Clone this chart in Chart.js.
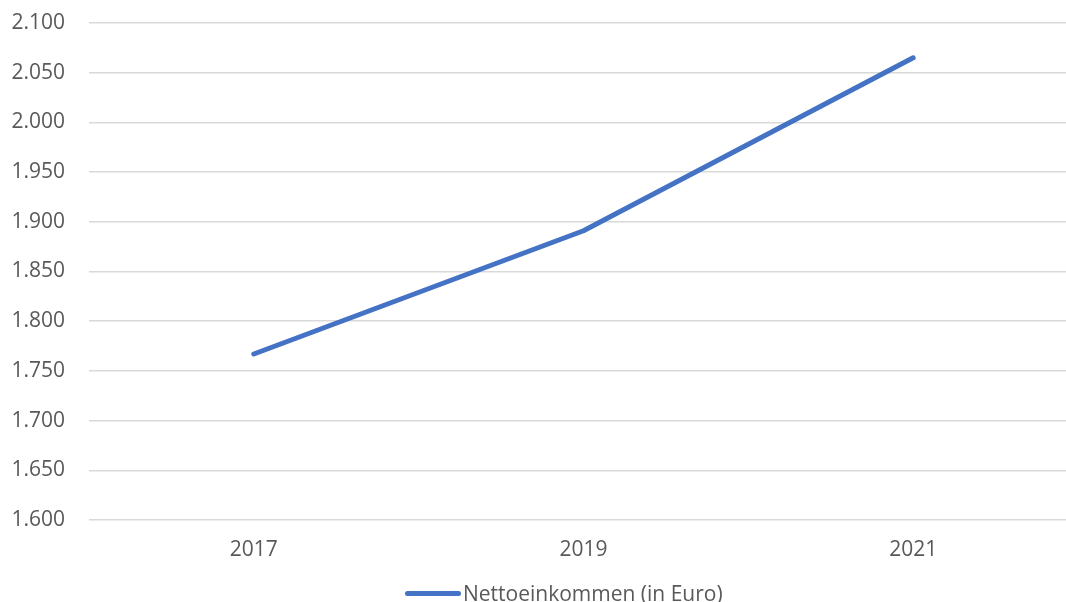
<!DOCTYPE html>
<html lang="de">
<head>
<meta charset="utf-8">
<script src="https://cdn.jsdelivr.net/npm/chart.js@4"></script>
<style>
  html, body { margin: 0; padding: 0; background: #fff; overflow: hidden; }
  #wrap { position: relative; width: 1078px; height: 602px; }
  #legend {
    position: absolute; left: 405px; top: 579px; height: 28px;
    display: flex; align-items: center;
    font-family: "Open Sans", Lato, sans-serif; font-size: 21px; color: #595959;
  }
  #legend .swatch { width: 56px; height: 5px; border-radius: 3px; background: #4472C4; margin-right: 2px; }
</style>
</head>
<body>
<div id="wrap">
  <canvas id="chart" width="1078" height="602"></canvas>
  <div id="legend"><span class="swatch"></span><span>Nettoeinkommen (in Euro)</span></div>
</div>
<script>
// ── Data ──────────────────────────────────────────────────────────────────────
const YEARS = ['2017', '2019', '2021'];
const NETTO = [1767, 1891, 2065];
const SERIES_LABEL = 'Nettoeinkommen (in Euro)';

const Y_MIN = 1600;
const Y_MAX = 2100;
const Y_STEP = 50;

const TEXT_COLOR = '#595959';
const GRID_COLOR = '#d9d9d9';
const LINE_COLOR = '#4472C4';
const FONT = { family: '"Open Sans", Lato, sans-serif', size: 21 };

// German thousands separator
function fmtDe(v) {
  return v.toLocaleString('de-DE');
}

const ctx = document.getElementById('chart').getContext('2d');
new Chart(ctx, {
  type: 'line',
  data: {
    labels: YEARS,
    datasets: [{
      label: SERIES_LABEL,
      data: NETTO,
      borderColor: LINE_COLOR,
      borderWidth: 5,
      borderCapStyle: 'round',
      borderJoinStyle: 'round',
      pointRadius: 0,
      pointHoverRadius: 0,
      tension: 0,
      fill: false,
    }],
  },
  options: {
    responsive: false,
    animation: false,
    layout: { padding: { top: 23, right: 0, bottom: 0, left: 0 } },
    plugins: {
      legend: { display: false },
      tooltip: { enabled: false },
    },
    scales: {
      x: {
        offset: true,
        grid: { display: false, drawTicks: false },
        border: { display: false },
        ticks: { color: TEXT_COLOR, font: FONT, padding: 17, maxRotation: 0 },
        afterFit: s => { s.height = 82; },
      },
      y: {
        min: Y_MIN,
        max: Y_MAX,
        grid: { color: GRID_COLOR, lineWidth: 1.5, drawTicks: false },
        border: { display: false },
        ticks: {
          stepSize: Y_STEP,
          color: TEXT_COLOR,
          font: FONT,
          padding: 24,
          callback: v => fmtDe(v),
        },
        afterFit: s => { s.width = 89; s.paddingTop = 0; s.paddingBottom = 0; },
      },
    },
  },
});
</script>
</body>
</html>
